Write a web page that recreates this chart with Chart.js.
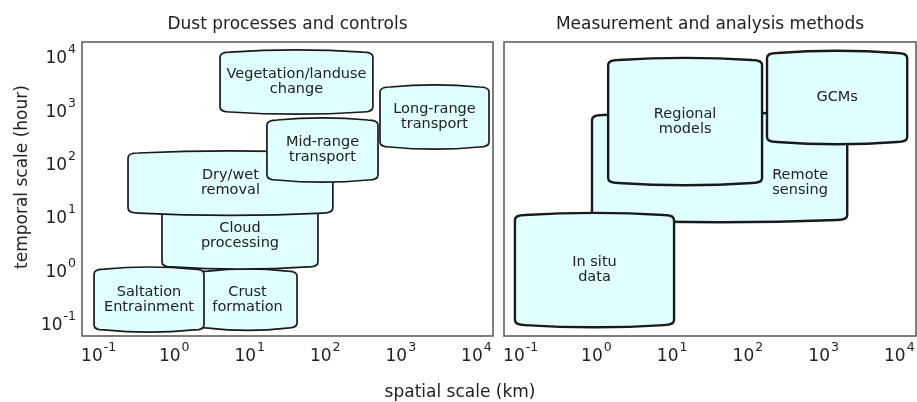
<!DOCTYPE html>
<html>
<head>
<meta charset="utf-8">
<script src="https://cdn.jsdelivr.net/npm/chart.js@4/dist/chart.umd.min.js"></script>
<style>
  html, body { margin: 0; padding: 0; background: #fff; }
  #wrap { position: relative; width: 917px; height: 402px; overflow: hidden;
          font-family: "DejaVu Sans", sans-serif; color: #222; }
  #leftPanel { position: absolute; left: 0; top: 0; }
  #rightPanel { position: absolute; left: 497px; top: 0; }
  .axis-title { position: absolute; font-size: 17px; line-height: 20px; height: 20px;
                white-space: nowrap; text-align: center; }
  #xTitle { left: 0; top: 381px; width: 920px; }
  #yTitle { left: -129px; top: 167px; width: 300px; transform: rotate(-90deg); transform-origin: 50% 50%; }
</style>
</head>
<body>
<div id="wrap">
  <canvas id="leftPanel" width="497" height="402"></canvas>
  <canvas id="rightPanel" width="420" height="402"></canvas>
  <div id="xTitle" class="axis-title">spatial scale (km)</div>
  <div id="yTitle" class="axis-title">temporal scale (hour)</div>
</div>
<script>
// ---- Dust processes: spatial extent (km) and temporal extent (hour), drawn in this order
const processLabels = ['Crust\nformation', 'Saltation\nEntrainment', 'Cloud\nprocessing', 'Dry/wet\nremoval',
                       'Vegetation/landuse\nchange', 'Mid-range\ntransport', 'Long-range\ntransport'];
const processKmMin   = [2.07, 0.087, 0.69, 0.245, 4.05, 16.9, 530];
const processKmMax   = [42.3, 2.48, 80, 126, 427, 499, 14700];
const processHourMin = [0.079, 0.073, 1.1, 11.2, 871, 46.6, 193];
const processHourMax = [0.92, 1.0, 15.8, 149, 11500, 617, 2560];

// ---- Measurement / analysis methods
const methodLabels   = ['Remote\nsensing', 'In situ\ndata', 'Regional\nmodels', 'GCMs'];
const methodKmMin    = [0.875, 0.084, 1.43, 179];
const methodKmMax    = [2050, 10.6, 154, 12700];
const methodHourMin  = [8.3, 0.090, 40.9, 239];
const methodHourMax  = [766, 10.3, 8180, 11070];
// where each label sits (null = centre of its box)
const methodLabelKm   = [490, null, null, null];
const methodLabelHour = [41, null, null, null];

// ---- Axes
const tickExponents = [-1, 0, 1, 2, 3, 4];
const kmRange   = [Math.pow(10, -1.22), Math.pow(10, 4.22)];
const hourRange = [Math.pow(10, -1.25), Math.pow(10, 4.25)];

const FONT = '"DejaVu Sans", sans-serif';
const TEXT = '#222';

function geoMean(a, b) { return Math.sqrt(a * b); }

function buildBoxes(labels, x0, x1, y0, y1, lx, ly) {
  return labels.map((label, i) => ({
    x: (lx && lx[i] != null) ? lx[i] : geoMean(x0[i], x1[i]),
    y: (ly && ly[i] != null) ? ly[i] : geoMean(y0[i], y1[i]),
    x0: x0[i], x1: x1[i], y0: y0[i], y1: y1[i], label
  }));
}

// rounded box with softly bowed top and bottom edges
function boxPath(ctx, L, T, R, B) {
  const rx = Math.min(10, (R - L) / 4), ry = Math.min(5, (B - T) / 4), bow = 2.2;
  const span = (R - L - 2 * rx) / 3;
  ctx.beginPath();
  ctx.moveTo(L, T + ry);
  ctx.quadraticCurveTo(L, T, L + rx, T);
  ctx.bezierCurveTo(L + rx + span, T - bow * 4 / 3, R - rx - span, T - bow * 4 / 3, R - rx, T);
  ctx.quadraticCurveTo(R, T, R, T + ry);
  ctx.lineTo(R, B - ry);
  ctx.quadraticCurveTo(R, B, R - rx, B);
  ctx.bezierCurveTo(R - rx - span, B + bow * 4 / 3, L + rx + span, B + bow * 4 / 3, L + rx, B);
  ctx.quadraticCurveTo(L, B, L, B - ry);
  ctx.closePath();
}

const boxPlugin = {
  id: 'scaleBoxes',
  afterDatasetsDraw(chart, args, opts) {
    const { ctx, scales: { x, y } } = chart;
    const boxes = chart.data.datasets[0].data;
    ctx.save();
    ctx.beginPath();
    ctx.rect(chart.chartArea.left, chart.chartArea.top,
             chart.chartArea.right - chart.chartArea.left, chart.chartArea.bottom - chart.chartArea.top);
    ctx.clip();
    boxes.forEach(b => {
      const L = x.getPixelForValue(b.x0), R = x.getPixelForValue(b.x1);
      const T = y.getPixelForValue(b.y1), B = y.getPixelForValue(b.y0);
      boxPath(ctx, L, T, R, B);
      ctx.fillStyle = '#e0ffff';
      ctx.fill();
      ctx.lineWidth = opts.lineWidth;
      ctx.strokeStyle = '#1a1a1a';
      ctx.lineJoin = 'round';
      ctx.stroke();
      const lines = b.label.split('\n');
      const cx = x.getPixelForValue(b.x), cy = y.getPixelForValue(b.y);
      const lh = 15;
      ctx.fillStyle = TEXT;
      ctx.font = '14.5px ' + FONT;
      ctx.textAlign = 'center';
      ctx.textBaseline = 'middle';
      lines.forEach((s, k) => ctx.fillText(s, cx, cy + (k - (lines.length - 1) / 2) * lh));
    });
    ctx.restore();
  }
};

const framePlugin = {
  id: 'frame',
  afterDraw(chart) {
    const { ctx, chartArea: a } = chart;
    ctx.save();
    ctx.strokeStyle = '#555';
    ctx.lineWidth = 1.5;
    ctx.strokeRect(a.left, a.top, a.right - a.left, a.bottom - a.top);
    ctx.restore();
  }
};

function drawPower(ctx, exp, x, baseY, align) {
  const es = String(exp);
  ctx.font = '17px ' + FONT;
  const w1 = ctx.measureText('10').width;
  ctx.font = '12.5px ' + FONT;
  const w2 = ctx.measureText(es).width;
  const gap = 1;
  const total = w1 + gap + w2;
  const sx = align === 'center' ? x - total / 2 : x - total;
  ctx.textAlign = 'left';
  ctx.textBaseline = 'alphabetic';
  ctx.font = '17px ' + FONT;
  ctx.fillText('10', sx, baseY);
  ctx.font = '12.5px ' + FONT;
  ctx.fillText(es, sx + w1 + gap, baseY - 10);
}

const tickPlugin = {
  id: 'powerTicks',
  afterDraw(chart, args, opts) {
    const { ctx, scales: { x, y }, chartArea: a } = chart;
    ctx.save();
    ctx.fillStyle = TEXT;
    tickExponents.forEach(e => {
      drawPower(ctx, e, x.getPixelForValue(Math.pow(10, e)), a.bottom + 25, 'center');
      if (opts.showY) {
        drawPower(ctx, e, a.left - 6, y.getPixelForValue(Math.pow(10, e)) + 7.7, 'right');
      }
    });
    ctx.restore();
  }
};

function makePanel(canvasId, title, boxes, yAxisWidth, padRight, lineWidth, showY) {
  return new Chart(document.getElementById(canvasId), {
    type: 'scatter',
    data: { datasets: [{ data: boxes, pointRadius: 0, pointHoverRadius: 0 }] },
    options: {
      responsive: false,
      animation: false,
      events: [],
      layout: { padding: { left: 0, right: padRight, top: 0, bottom: 0 } },
      plugins: {
        legend: { display: false },
        tooltip: { enabled: false },
        title: {
          display: true, text: title, fullSize: false, color: TEXT,
          font: { family: FONT, size: 17, weight: 'normal' },
          padding: { top: 14.8, bottom: 6.8 }
        },
        scaleBoxes: { lineWidth },
        powerTicks: { showY }
      },
      scales: {
        x: {
          type: 'logarithmic', min: kmRange[0], max: kmRange[1], bounds: 'data',
          grid: { display: false }, border: { display: false }, ticks: { display: false },
          afterFit(s) { s.height = 66; }
        },
        y: {
          type: 'logarithmic', min: hourRange[0], max: hourRange[1], bounds: 'data',
          grid: { display: false }, border: { display: false }, ticks: { display: false },
          afterFit(s) { s.width = yAxisWidth; }
        }
      }
    },
    plugins: [boxPlugin, framePlugin, tickPlugin]
  });
}

makePanel('leftPanel', 'Dust processes and controls',
  buildBoxes(processLabels, processKmMin, processKmMax, processHourMin, processHourMax),
  82, 4, 1.7, true);

makePanel('rightPanel', 'Measurement and analysis methods',
  buildBoxes(methodLabels, methodKmMin, methodKmMax, methodHourMin, methodHourMax, methodLabelKm, methodLabelHour),
  7, 1, 2.4, false);
</script>
</body>
</html>
